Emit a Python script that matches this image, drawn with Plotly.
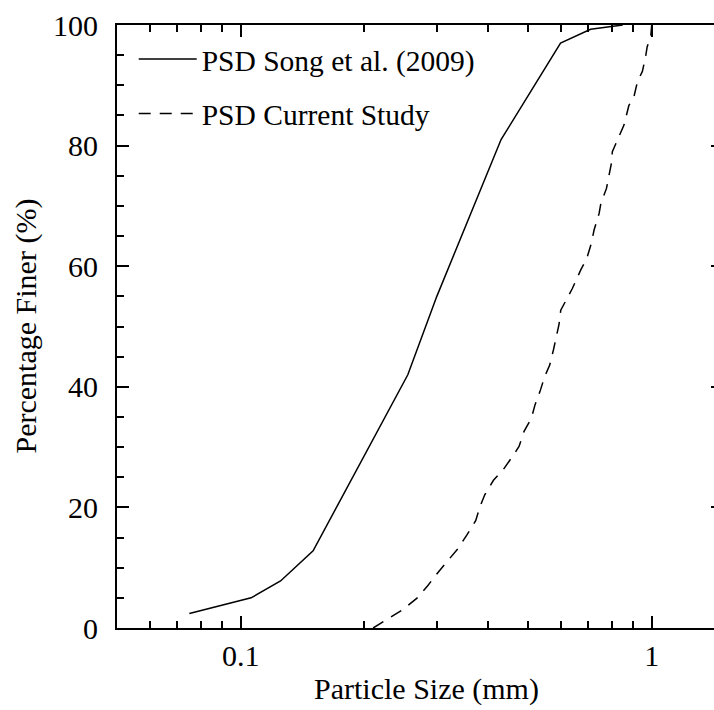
import numpy as np
import plotly.graph_objects as go

# Song et al. (2009) particle size distribution
song_size = [0.075, 0.106, 0.125, 0.15, 0.255, 0.30, 0.43, 0.60, 0.71, 0.85]
song_finer = [2.4, 5.0, 7.8, 12.8, 42.0, 55.0, 81.0, 97.0, 99.3, 100.0]

# Current study particle size distribution
cur_size = [0.21, 0.2475, 0.268, 0.2857, 0.3027, 0.3224, 0.338, 0.3548, 0.373, 0.382,
            0.3924, 0.412, 0.4356, 0.458, 0.4755, 0.489, 0.5096, 0.520, 0.5346, 0.549,
            0.5647, 0.5765, 0.585, 0.595, 0.6007, 0.6237, 0.641, 0.672, 0.695, 0.713,
            0.724, 0.745, 0.752, 0.776, 0.798, 0.802, 0.841, 0.856, 0.880, 0.903,
            0.923, 0.949, 0.966, 0.975, 0.9945, 1.0]
cur_finer = [0.0, 3.0, 4.9, 7.1, 9.3, 11.6, 13.2, 15.4, 17.8, 20.1,
             22.1, 24.5, 26.3, 28.4, 30.1, 32.6, 34.8, 37.0, 39.2, 41.7,
             43.6, 46.1, 48.0, 50.4, 52.7, 54.7, 56.3, 59.4, 61.3, 63.8,
             66.0, 68.8, 70.4, 72.9, 77.1, 79.0, 82.0, 83.4, 86.7, 87.8,
             90.6, 92.3, 94.7, 96.4, 98.1, 100.0]

x_major = [0.1, 1]
x_major_text = ["0.1", "1"]
x_minor = [0.05, 0.06, 0.07, 0.08, 0.09, 0.2, 0.3, 0.4, 0.5, 0.6, 0.7, 0.8, 0.9]
y_major = [0, 20, 40, 60, 80, 100]

FONT = "Liberation Serif"

fig = go.Figure()
fig.add_trace(go.Scatter(x=song_size, y=song_finer, mode="lines",
                         name="PSD Song et al. (2009)",
                         line=dict(color="black", width=1.5),
                         legendgroup="a"))
fig.add_trace(go.Scatter(x=cur_size, y=cur_finer, mode="lines",
                         name="PSD Current Study",
                         line=dict(color="black", width=1.5, dash="12px,9px"),
                         legendgroup="b"))
fig.add_trace(go.Scatter(x=[None], y=[None], yaxis="y2", showlegend=False,
                         hoverinfo="skip"))

fig.update_layout(
    width=714, height=710,
    margin=dict(l=117, r=0, t=25, b=82),
    paper_bgcolor="white", plot_bgcolor="white",
    font=dict(family=FONT, size=30, color="black"),
    showlegend=True,
    legend=dict(x=0.028, y=0.986, xanchor="left", yanchor="top",
                bgcolor="rgba(0,0,0,0)", borderwidth=0,
                traceorder="grouped", tracegroupgap=13,
                itemwidth=58, font=dict(family=FONT, size=29.5)),
    xaxis=dict(type="log", range=[np.log10(0.05), np.log10(0.05) + 597 / 411],
               tickvals=x_major, ticktext=x_major_text,
               ticks="inside", ticklen=12, tickwidth=1.5, tickcolor="black",
               minor=dict(tickvals=x_minor, ticks="inside", ticklen=7,
                          tickwidth=1.5, tickcolor="black", showgrid=False),
               showline=True, linewidth=2, linecolor="black", mirror="ticks",
               showgrid=False, zeroline=False, ticklabelstandoff=0,
               tickfont=dict(family=FONT, size=30)),
    yaxis=dict(range=[0, 100], tickvals=y_major,
               ticks="inside", ticklen=12, tickwidth=1.5, tickcolor="black",
               minor=dict(dtick=5, ticks="inside", ticklen=7, tickwidth=1.5,
                          tickcolor="black", showgrid=False),
               showline=True, linewidth=2, linecolor="black",
               showgrid=False, zeroline=False, ticklabelstandoff=11,
               tickfont=dict(family=FONT, size=30)),
    yaxis2=dict(overlaying="y", side="right", range=[0, 100], tickvals=y_major,
                ticks="inside", ticklen=3, tickwidth=1.5, tickcolor="black",
                showticklabels=False, showline=False, showgrid=False,
                zeroline=False),
    annotations=[
        dict(text="Particle Size (mm)", xref="paper", yref="paper",
             x=(426 - 117) / 597, y=-(689 - 628) / 603,
             xanchor="center", yanchor="middle", showarrow=False,
             font=dict(family=FONT, size=30)),
        dict(text="Percentage Finer (%)", xref="paper", yref="paper",
             x=(25 - 117) / 597, y=0.5, textangle=-90,
             xanchor="center", yanchor="middle", showarrow=False,
             font=dict(family=FONT, size=30)),
    ],
)

fig.write_html("out.html")
